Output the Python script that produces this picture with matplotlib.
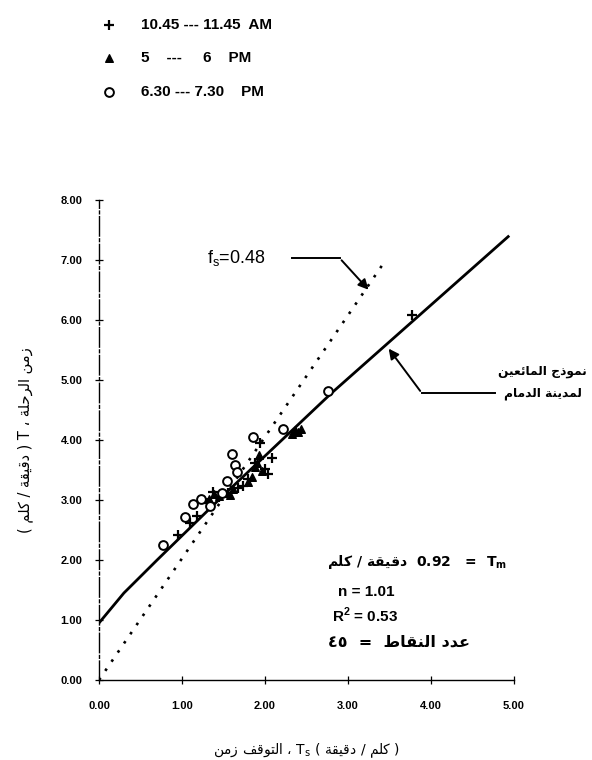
import matplotlib
matplotlib.use('Agg')
import matplotlib.pyplot as plt

plt.rcParams['font.family'] = ['Liberation Sans', 'DejaVu Sans']

# --- data (Ts, T in min/km) ---
plus_x = [0.95, 1.10, 1.18, 1.30, 1.37, 1.45, 1.55, 1.68, 1.73, 1.80, 1.88, 1.94, 2.00, 2.04, 2.08, 3.77]
plus_y = [2.42, 2.62, 2.73, 2.95, 3.13, 3.05, 3.12, 3.20, 3.24, 3.35, 3.62, 3.95, 3.52, 3.44, 3.70, 6.08]

tri_x = [1.32, 1.38, 1.45, 1.50, 1.58, 1.62, 1.80, 1.84, 1.88, 1.90, 1.93, 1.96, 2.33, 2.36, 2.40, 2.43]
tri_y = [3.02, 3.10, 3.06, 3.12, 3.08, 3.18, 3.30, 3.38, 3.55, 3.62, 3.75, 3.48, 4.10, 4.16, 4.13, 4.18]

circ_x = [0.77, 1.04, 1.13, 1.23, 1.34, 1.48, 1.54, 1.60, 1.64, 1.66, 1.86, 2.22, 2.76]
circ_y = [2.25, 2.72, 2.93, 3.02, 2.90, 3.12, 3.32, 3.76, 3.58, 3.47, 4.05, 4.18, 4.82]

# two-fluid model curve for Dammam
model_x = [0.0, 0.30, 0.70, 1.50, 2.80, 4.93]
model_y = [0.95, 1.45, 2.00, 3.08, 4.78, 7.39]

# fs = 0.48 reference line
fs_x = [0.0, 3.43]
fs_y = [0.0, 6.95]

x_ticks = [0, 1, 2, 3, 4, 5]
y_ticks = [0, 1, 2, 3, 4, 5, 6, 7, 8]

legend_labels = ['10.45 --- 11.45  AM', '5    ---     6    PM', '6.30 --- 7.30    PM']

# --- minimal arabic shaping (matplotlib 3.10 has no complex text layout) ---
DUAL = {'ئ': 0xFE89, 'ب': 0xFE8F, 'ت': 0xFE95, 'ج': 0xFE9D, 'ح': 0xFEA1, 'ط': 0xFEC1,
        'ع': 0xFEC9, 'ف': 0xFED1, 'ق': 0xFED5, 'ك': 0xFED9, 'ل': 0xFEDD, 'م': 0xFEE1,
        'ن': 0xFEE5, 'ه': 0xFEE9, 'ي': 0xFEF1}
RIGHT = {'ا': 0xFE8D, 'ة': 0xFE93, 'د': 0xFEA9, 'ر': 0xFEAD, 'ز': 0xFEAF, 'و': 0xFEED}


def ar(s):
    out = []
    for i, c in enumerate(s):
        if c not in DUAL and c not in RIGHT:
            out.append(c)
            continue
        prev = s[i - 1] if i > 0 else ''
        nxt = s[i + 1] if i + 1 < len(s) else ''
        jp = prev in DUAL
        jn = c in DUAL and (nxt in DUAL or nxt in RIGHT)
        base = DUAL.get(c, RIGHT.get(c))
        if jp and jn:
            code = base + 3
        elif jp:
            code = base + 1
        elif jn:
            code = base + 2
        else:
            code = base
        out.append(chr(code))
    return ''.join(out)[::-1]


AR = ['DejaVu Sans']

fig = plt.figure(figsize=(5.92, 7.6), dpi=100)
ax = fig.add_axes([99 / 592, 80 / 760, 415 / 592, 480 / 760])

ax.plot(model_x, model_y, color='black', lw=2.0)
ax.plot(fs_x, fs_y, color='black', lw=1.9, linestyle=(0, (1, 3.2)))

ax.scatter(plus_x, plus_y, marker='+', s=50, color='black', linewidths=1.6,
           label=legend_labels[0], zorder=3)
ax.scatter(tri_x, tri_y, marker='^', s=30, color='black', label=legend_labels[1], zorder=3)
ax.scatter(circ_x, circ_y, marker='o', s=40, facecolors='white', edgecolors='black',
           linewidths=1.4, label=legend_labels[2], zorder=3)

ax.set_xlim(0, 5)
ax.set_ylim(0, 8)
ax.set_xticks(x_ticks)
ax.set_yticks(y_ticks)
ax.set_xticklabels(['%.2f' % v for v in x_ticks], fontsize=8, fontweight='bold')
ax.set_yticklabels(['%.2f' % v for v in y_ticks], fontsize=8, fontweight='bold')
ax.tick_params(direction='inout', length=6, width=0.9, pad=9)
ax.tick_params(axis='x', pad=12)
for side in ['top', 'right']:
    ax.spines[side].set_visible(False)
ax.spines['left'].set_linestyle((0, (14, 2, 2, 2)))
ax.spines['left'].set_linewidth(1.0)
ax.spines['bottom'].set_linewidth(1.0)

# axis labels
ylab = '( ' + ar('دقيقة / كلم') + ' ) T ، ' + ar('زمن الرحلة')
ax.set_ylabel(ylab, fontsize=10.5, labelpad=20, family=AR)
xlab = ar('زمن') + ' ' + ar('التوقف') + ' ، T$_\\mathregular{s}$ ( ' + ar('دقيقة') + ' / ' + ar('كلم') + ' )'
ax.set_xlabel(xlab, fontsize=10, labelpad=22, family=AR)

# fs = 0.48 label with bent arrow
ax.text(1.30, 7.03, 'f$_\\mathregular{s}$=0.48', fontsize=13, ha='left', va='center')
ax.plot([2.33, 2.90], [7.03, 7.03], color='black', lw=1.4)
ax.annotate('', xy=(3.27, 6.47), xytext=(2.90, 7.03),
            arrowprops=dict(arrowstyle='-|>', color='black', lw=1.4, mutation_scale=15))

# model label with bent arrow
ax.plot([4.77, 3.89], [4.78, 4.78], color='black', lw=1.4)
ax.annotate('', xy=(3.47, 5.56), xytext=(3.89, 4.78),
            arrowprops=dict(arrowstyle='-|>', color='black', lw=1.4, mutation_scale=15))
ax.text(5.88, 5.15, ar('نموذج المائعين'), fontsize=8.8, fontweight='bold', ha='right',
        va='center', family=AR, clip_on=False)
ax.text(5.82, 4.78, ar('لمدينة الدمام'), fontsize=8.8, fontweight='bold', ha='right',
        va='center', family=AR, clip_on=False)

# regression results
ax.text(2.75, 1.97, ar('دقيقة / كلم') + '  0.92   =  T$_\\mathregular{m}$', fontsize=10,
        fontweight='bold', ha='left', va='center', family=AR)
ax.text(2.88, 1.46, 'n = 1.01', fontsize=11, fontweight='bold', ha='left', va='center')
ax.text(2.81, 1.07, 'R$^\\mathregular{2}$ = 0.53', fontsize=11, fontweight='bold',
        ha='left', va='center')
ax.text(2.76, 0.64, '٤٥  =  ' + ar('عدد النقاط'), fontsize=11.5, fontweight='bold',
        ha='left', va='center', family=AR)

leg = ax.legend(loc='upper left', bbox_to_anchor=(0.148, 0.995), bbox_transform=fig.transFigure,
                frameon=False, labelspacing=1.3, handletextpad=1.6, handlelength=1.0,
                prop={'size': 11, 'weight': 'bold'})

fig.savefig('out.png', dpi=100)
